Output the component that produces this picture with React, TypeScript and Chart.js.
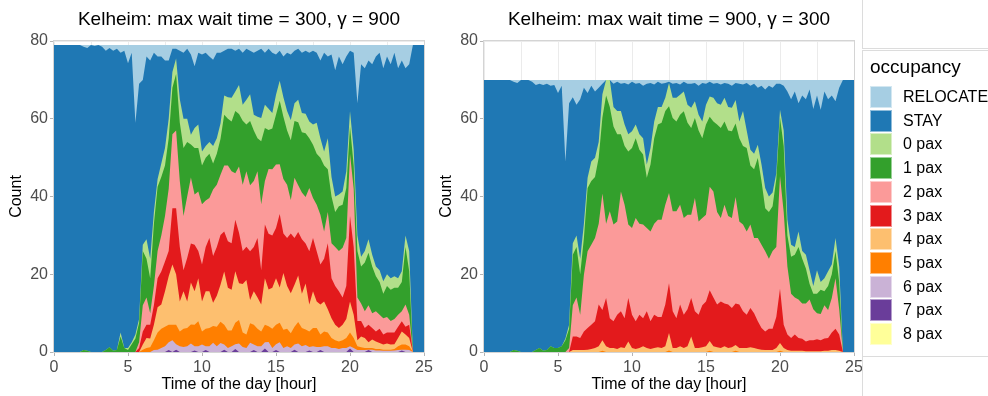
import React, { useEffect, useRef } from "react";
import { Chart, registerables } from "chart.js";

Chart.register(...registerables);

const FONT = "'Liberation Sans', Arial, Helvetica, sans-serif";

// time grid: every 15 minutes from 0 h to 25 h
const HOURS = Array.from({ length: 101 }, (_, i) => i * 0.25);

const FLEET_1 = 79;
const FLEET_2 = 70;

const TITLE_1 = "Kelheim: max wait time = 300, \u03b3 = 900";
const TITLE_2 = "Kelheim: max wait time = 900, \u03b3 = 300";
const X_TITLE = "Time of the day [hour]";
const Y_TITLE = "Count";
const X_TICKS = [0, 5, 10, 15, 20, 25];
const Y_TICKS = [0, 20, 40, 60, 80];

const LEGEND = ["RELOCATE", "STAY", "0 pax", "1 pax", "2 pax", "3 pax", "4 pax", "5 pax", "6 pax", "7 pax", "8 pax"];
const COLORS: Record<string, string> = {
  RELOCATE: "#a6cee3",
  STAY: "#1f78b4",
  "0 pax": "#b2df8a",
  "1 pax": "#33a02c",
  "2 pax": "#fb9a99",
  "3 pax": "#e31a1c",
  "4 pax": "#fdbf6f",
  "5 pax": "#ff7f00",
  "6 pax": "#cab2d6",
  "7 pax": "#6a3d9a",
  "8 pax": "#ffff99",
};

// ---------------- Panel 1: max wait time = 300, gamma = 900 ----------------
const P1_RELOCATE = [
  0, 0, 0, 0, 0, 0, 0, 0, 0.5, 0.8, 0, 0.3, 0, 0.5, 1.5, 0.8,
  1.5, 1, 2, 1.5, 4.7, 2, 20, 10, 9, 3, 4, 2, 3, 3, 4, 4,
  1, 1, 1.5, 2, 1, 2.5, 5.5, 2, 2.5, 2, 3, 3.8, 2, 2, 1.5, 1,
  1, 1.5, 1, 2, 1, 1.5, 2, 1.5, 1, 2, 1, 2, 2.5, 1.5, 3, 2,
  2.5, 1.5, 1, 2, 1.5, 2, 1.5, 2, 4, 2, 3, 2.5, 6.5, 3, 5, 3,
  1.5, 2, 15, 5, 6, 4, 5, 3, 2, 6, 3, 5, 2, 6, 4, 6,
  5, 0, 0, 0, 0,
];
const P1_PAX0 = [
  0, 0, 0, 0, 0, 0, 0, 0, 0, 0, 0, 0, 0, 0, 0, 0,
  0, 0, 1, 0, 0.5, 0.5, 1, 1, 1.6, 5, 5, 3, 2, 3.5, 4.5, 5,
  4, 4, 6, 7.5, 6, 2.5, 5.1, 6, 3.6, 3, 3, 4.5, 4, 4, 5, 5.5,
  6.1, 5, 7.5, 4.1, 6.4, 6.9, 4, 5.5, 6, 6, 5.5, 4, 5.2, 5.2, 5, 5,
  5.2, 4.6, 5.8, 5, 5, 4.3, 5.2, 8, 5, 3.6, 8, 5, 4, 3, 3.4, 4.3,
  4, 4, 4, 2.5, 3, 3.5, 3, 2.5, 3, 3.2, 3, 3, 3, 2.5, 2.8, 3,
  5.2, 0, 0, 0, 0,
];
const P1_PAX1 = [
  0, 0, 0, 0, 0, 0, 0, 0, 0.5, 0.3, 0, 0, 0, 0, 0.5, 1.2,
  0.3, 0.5, 4, 1, 0.5, 2, 3.5, 5, 14, 10, 9, 16, 16.5, 15, 13, 13,
  12, 14.5, 15, 17.5, 14, 8.5, 12, 11.2, 10, 11, 11.4, 6.7, 8, 9.2, 13, 12,
  12.8, 16, 13.5, 16.5, 12, 16.5, 13, 8.5, 16.2, 13.6, 10, 10.5, 12.8, 16.3, 16, 14,
  15.4, 14.6, 16.2, 15.5, 16.4, 12.8, 13.7, 13.1, 14.7, 17, 11, 12, 9, 11.5, 11.1, 12.9,
  7, 6, 12, 9.5, 12.5, 13.5, 12, 9, 8.4, 6.3, 8, 8, 8, 6.9, 7.5, 14.8,
  11.2, 0, 0, 0, 0,
];
const P1_PAX2 = [
  0, 0, 0, 0, 0, 0, 0, 0, 0, 0, 0, 0, 0, 0, 0, 0,
  0, 0, 0, 0, 0, 0, 0, 1.5, 6.7, 7, 3, 5, 7, 9.3, 11.7, 16,
  19, 20, 17, 14, 15.8, 17, 12.9, 15.3, 15.5, 12, 10.3, 17.1, 16, 15.5, 17, 19.5,
  18.5, 12, 17, 17, 19.4, 17, 17, 17.2, 17, 11.2, 16.7, 17, 16.3, 12.8, 14, 13.7,
  8.6, 15.5, 12, 12, 12, 16.3, 10.3, 12, 12.8, 7, 8, 9, 10, 10.4, 12.8, 12.3,
  16, 15, 6, 4.5, 4.3, 5, 3.8, 5.2, 3.6, 4.2, 4, 3, 3.5, 3.1, 2.6, 5.7,
  2.6, 0, 0, 0, 0,
];
const P1_PAX3 = [
  0, 0, 0, 0, 0, 0, 0, 0, 0, 0, 0, 0, 0, 0, 0, 0,
  0, 0, 0, 0, 0, 0, 0, 1, 3.4, 3.4, 3.5, 5, 7.5, 8.5, 7.7, 6.5,
  14.5, 17, 14, 5.4, 11.2, 10, 12, 7, 9.5, 11.4, 13.7, 12, 12.5, 12.8, 10.3, 12,
  12, 13.2, 13, 8.5, 8.6, 12.5, 11.4, 15.3, 8.8, 13.8, 14.3, 13.5, 12.9, 18.9, 10.2, 12.3,
  15.4, 12, 11.2, 14, 10.3, 13.7, 13.7, 12.9, 10.3, 11, 17, 10.3, 10, 9.4, 7, 8.5,
  22, 17.4, 5, 4, 2.6, 4.5, 3, 2.6, 3.7, 2.6, 2.8, 3.1, 3, 2.9, 2.6, 2,
  3.4, 0, 0, 0, 0,
];
const P1_PAX4 = [
  0, 0, 0, 0, 0, 0, 0, 0, 0, 0, 0, 0, 0, 0, 0, 0,
  0, 0, 0, 0, 0, 0, 0, 0, 1.3, 2.6, 2.3, 4, 6.5, 6.2, 9.1, 12.5,
  15.5, 13, 7.7, 9.6, 6.8, 10.8, 8.6, 11.1, 7.7, 9.6, 9.4, 6, 8, 9.5, 13.7, 11,
  10.5, 13.3, 9.5, 12.5, 14, 6, 8.6, 8, 6.9, 12, 9.5, 10.5, 12, 9.1, 14.6, 11,
  10.3, 10.8, 12, 8.8, 11.8, 6.9, 9.4, 6.8, 7.7, 7.7, 6, 5.1, 4, 3.5, 4, 4.9,
  8, 6, 1.5, 2.8, 2.6, 1.5, 2.2, 1.9, 1.5, 1.3, 1.6, 1.3, 1.2, 2.1, 3.4, 2.6,
  2.1, 0, 0, 0, 0,
];
const P1_PAX5 = [
  0, 0, 0, 0, 0, 0, 0, 0, 0, 0, 0, 0, 0, 0, 0, 0,
  0, 0, 0, 0, 0, 0, 0, 0, 0.6, 1, 1.2, 2.5, 4.4, 5, 5, 4.5,
  4, 5, 3.8, 4.7, 4.7, 4.9, 5.5, 6.4, 3.4, 4.5, 4.7, 4.3, 5, 5.5, 5.1, 4.5,
  4, 5.5, 6, 3.7, 3.5, 5, 5.1, 4.5, 3.8, 4.5, 4, 5, 5, 5, 4.7, 4.5,
  3.8, 4.6, 5.5, 4.7, 4, 4, 4.7, 4.9, 3.2, 3.8, 3.5, 2.6, 2, 1.9, 2, 2.6,
  3.5, 2.6, 1, 0.7, 0.5, 0.4, 0.4, 0.4, 0.4, 0.3, 0.3, 0.3, 0.4, 1, 1.3, 1.3,
  1, 0, 0, 0, 0,
];
const P1_PAX6 = [
  0, 0, 0, 0, 0, 0, 0, 0, 0, 0, 0, 0, 0, 0, 0, 0,
  0, 0, 0, 0, 0, 0, 0, 0, 0, 0, 0, 0.5, 0.6, 1, 1.5, 2,
  3, 1.4, 1.5, 1.3, 1.5, 2.2, 1.1, 1.5, 1.9, 1, 1.5, 2.4, 1.5, 2.3, 1.3, 1,
  1.5, 1.2, 2.2, 1.3, 1, 2.4, 1.4, 1.5, 1.5, 1.6, 2.6, 1, 1.5, 2.5, 1, 1.5,
  1, 1.3, 2.2, 1.5, 1.8, 0.9, 1.5, 1.3, 0.8, 1.5, 1.5, 1, 1, 0.8, 1, 1,
  0.6, 1, 0.5, 0.5, 0.5, 0.1, 0.6, 0.4, 0.4, 0.3, 0.3, 0.3, 0.4, 0.5, 0.2, 0.6,
  0.5, 0, 0, 0, 0,
];
const P1_PAX7 = [
  0, 0, 0, 0, 0, 0, 0, 0, 0, 0, 0, 0, 0, 0, 0, 0,
  0, 0, 0, 0, 0, 0, 0, 0, 0, 0, 0, 0, 0, 0, 0, 0.5,
  0, 0.6, 0, 0, 0, 0, 0.4, 0, 0, 0.5, 0, 0, 0, 0, 0.6, 0,
  0, 0.8, 0, 0, 0, 0, 0.5, 0, 0, 0.9, 0, 0, 0.5, 0, 0, 0,
  0, 0.6, 0, 0, 0, 0.4, 0, 0, 0.5, 0, 0, 0, 0, 0, 0, 0,
  0.9, 0, 0, 0, 0, 0.5, 0, 0, 0, 0, 0, 0, 0, 0, 0.4, 0,
  0, 0, 0, 0, 0,
];

// ---------------- Panel 2: max wait time = 900, gamma = 300 ----------------
const P2_RELOCATE = [
  0, 0, 0, 0, 0, 0, 0, 0, 0.5, 0.8, 0, 0, 0, 0.5, 1.3, 1,
  1.3, 1, 1.5, 1.3, 3.4, 1.5, 21, 6, 4.5, 6.4, 5, 2, 3.4, 1.5, 3, 2,
  1, 0, 0, 1, 0.5, 1, 0.8, 1.2, 0.5, 1, 0.8, 1.5, 1, 0.8, 1.2, 0.5,
  1, 0.8, 0.5, 1, 0.8, 1.2, 0.5, 1, 1, 0.8, 1.5, 0.8, 1, 0.5, 1, 0.8,
  1.2, 0.8, 1, 1.5, 0.8, 1, 1.2, 0.8, 1.5, 1, 2, 1.5, 2.5, 1.5, 2, 1,
  1, 1.5, 3, 5, 3, 6, 4, 5, 2.5, 7.5, 4, 7.7, 3, 5, 4, 5.5,
  2, 0, 0, 0, 0,
];
const P2_PAX0 = [
  0, 0, 0, 0, 0, 0, 0, 0, 0, 0, 0, 0, 0, 0, 0, 0,
  0, 0, 0, 0, 0, 0, 0.5, 1, 3, 3, 4, 3.7, 2.6, 5, 5, 4,
  6, 4, 7, 5, 6, 6, 5.5, 4.4, 4.3, 3.5, 4, 4.2, 3.4, 4.3, 4.3, 4.5,
  4, 3.4, 6, 5.2, 6.1, 5.2, 5.1, 4.6, 5.2, 4.3, 4, 4.3, 5.1, 5.2, 6.1, 5.5,
  6, 6.1, 6, 6, 6, 4.3, 9, 4.5, 4, 4, 3.4, 4.3, 5.2, 4, 3.5, 1.5,
  2, 4, 4, 3.1, 2, 4, 2, 3.5, 3.5, 2, 6, 2, 3.4, 3.8, 2.5, 3.3,
  4, 0, 0, 0, 0,
];
const P2_PAX1 = [
  0, 0, 0, 0, 0, 0, 0, 0, 0.5, 0.3, 0, 0, 0, 0, 0.5, 1,
  0.3, 0.5, 1.5, 1, 1, 1.5, 3, 5, 13, 13, 10.4, 9.4, 16.3, 16.4, 15.7, 17,
  19.5, 33, 26.8, 25.2, 22.4, 14.7, 15.1, 18.8, 20.6, 20.5, 19, 18, 12.9, 17.2, 22, 24.5,
  25, 24.1, 22.3, 24, 23.1, 23.1, 27.4, 23.7, 22.3, 20.6, 23.4, 20.5, 23.2, 18, 18, 22.5,
  23.1, 21.4, 22, 22.3, 18.9, 21.4, 20.2, 21.5, 15.2, 17.7, 20.6, 16.3, 11.1, 12, 11.5, 17.5,
  15, 17, 8, 9.5, 11, 13.5, 11.5, 9, 4, 4, 5, 6.2, 3.6, 6.2, 6.1, 7,
  7, 0, 0, 0, 0,
];
const P2_PAX2 = [
  0, 0, 0, 0, 0, 0, 0, 0, 0, 0, 0, 0, 0, 0, 0, 0,
  0, 0, 0, 0, 0, 0, 0, 1, 8, 10, 6, 14.6, 19.7, 20.6, 21.4, 20.8,
  30, 19.1, 27.5, 24.9, 24, 30.8, 29.2, 18.9, 22.3, 26.6, 23.4, 24.1, 21.4, 23.1, 23.4, 25,
  25, 25.7, 23.2, 25.7, 27.5, 25.7, 24.9, 24.3, 21.4, 29.1, 24, 22.5, 22.3, 26.6, 27.3, 23.8,
  21.5, 25.4, 22.8, 23.2, 27.4, 21.4, 22.3, 21.4, 21.5, 19.3, 21.4, 21.4, 20.6, 18, 20, 18,
  29, 29, 17.5, 11.4, 9.5, 9.9, 9.1, 9.8, 10.5, 8, 6.7, 6.8, 8.5, 7.2, 8.9, 13,
  6.5, 0, 0, 0, 0,
];
const P2_PAX3 = [
  0, 0, 0, 0, 0, 0, 0, 0, 0, 0, 0, 0, 0, 0, 0, 0,
  0, 0, 0, 0, 0, 0, 0, 0, 3.5, 3.5, 3.1, 4.8, 5.6, 6.2, 6.9, 10.7,
  7.8, 12.4, 7.7, 6.9, 8.8, 9.3, 7.7, 11.2, 8.6, 7.1, 8.6, 7.2, 9.5, 7.1, 8.6, 7.8,
  8, 10.7, 12.8, 9.5, 7.7, 10.7, 8.6, 9.5, 9.9, 9.5, 8.6, 10.8, 11.5, 13.1, 12.5, 11,
  12, 11, 11.2, 10.1, 10.7, 11.2, 9.5, 8.6, 10.1, 9, 7.1, 5.6, 4.8, 5.5, 5.5, 8,
  14, 6, 4, 3.3, 4.2, 3.3, 3.1, 2.5, 2.8, 2.8, 3.1, 2.8, 3.2, 3.3, 4.5, 5.5,
  4.2, 0, 0, 0, 0,
];
const P2_PAX4 = [
  0, 0, 0, 0, 0, 0, 0, 0, 0, 0, 0, 0, 0, 0, 0, 0,
  0, 0, 0, 0, 0, 0, 0, 0, 0.5, 0.5, 0.5, 0.5, 0.6, 0.8, 1, 1.5,
  2.7, 1.5, 1, 1, 0.8, 1.2, 1, 2.7, 1, 0.8, 1, 1.5, 1, 0.8, 1, 1.2,
  1, 1.5, 4.5, 1, 1, 1.5, 1, 1.5, 4, 1, 1, 1.2, 1.5, 2.5, 1.5, 1.2,
  1, 1.5, 1, 1.2, 1.5, 1, 1, 1, 1.2, 1, 0.8, 0.6, 0.5, 0.5, 0.5, 1,
  2, 1, 0.5, 0.3, 0.3, 0.3, 0.3, 0.2, 0.2, 0.2, 0.2, 0.2, 0.3, 0.3, 0.5, 0.5,
  0.3, 0, 0, 0, 0,
];
const P2_PAX5 = [
  0, 0, 0, 0, 0, 0, 0, 0, 0, 0, 0, 0, 0, 0, 0, 0,
  0, 0, 0, 0, 0, 0, 0, 0, 0, 0, 0, 0, 0, 0, 0, 0,
  0.3, 0, 0, 0, 0, 0, 0, 0, 0, 0, 0, 0, 0, 0, 0, 0,
  0, 0, 0.4, 0, 0, 0, 0, 0, 0, 0, 0, 0, 0, 0.3, 0, 0,
  0, 0, 0, 0, 0.3, 0, 0, 0, 0, 0, 0, 0, 0, 0, 0, 0,
  0.3, 0, 0, 0, 0, 0, 0, 0, 0, 0, 0, 0, 0, 0, 0, 0,
  0, 0, 0, 0, 0,
];

const PANEL_1 = { title: TITLE_1, fleet: FLEET_1, relocate: P1_RELOCATE, pax: [P1_PAX0, P1_PAX1, P1_PAX2, P1_PAX3, P1_PAX4, P1_PAX5, P1_PAX6, P1_PAX7] };
const PANEL_2 = { title: TITLE_2, fleet: FLEET_2, relocate: P2_RELOCATE, pax: [P2_PAX0, P2_PAX1, P2_PAX2, P2_PAX3, P2_PAX4, P2_PAX5] };

function buildDatasets(panel: { fleet: number; relocate: number[]; pax: number[][] }) {
  const layers: { label: string; values: number[] }[] = [];
  for (let k = panel.pax.length - 1; k >= 0; k--) layers.push({ label: `${k} pax`, values: panel.pax[k] });
  const stay = HOURS.map((_, i) => {
    let used = panel.relocate[i];
    for (const arr of panel.pax) used += arr[i];
    return Math.max(0, panel.fleet - used);
  });
  layers.push({ label: "STAY", values: stay });
  layers.push({ label: "RELOCATE", values: panel.relocate });
  return layers.map((l) => ({
    label: l.label,
    data: HOURS.map((h, i) => ({ x: h, y: l.values[i] })),
    backgroundColor: COLORS[l.label],
    borderColor: COLORS[l.label],
    borderWidth: 0,
    pointRadius: 0,
    pointHoverRadius: 0,
    fill: "origin",
    tension: 0,
  }));
}

const framePlugin = {
  id: "frame",
  afterDatasetsDraw(chart: any) {
    const { ctx, chartArea: a } = chart;
    ctx.save();
    ctx.strokeStyle = "#d4d4d4";
    ctx.lineWidth = 1;
    ctx.strokeRect(Math.round(a.left) - 0.5, Math.round(a.top) - 0.5, Math.round(a.right - a.left) + 1, Math.round(a.bottom - a.top) + 1);
    ctx.restore();
  },
};

function Panel({ panel, left, width, padRight }: { panel: any; left: number; width: number; padRight: number }) {
  const ref = useRef<HTMLCanvasElement>(null);
  useEffect(() => {
    const chart = new Chart(ref.current as HTMLCanvasElement, {
      type: "line",
      data: { datasets: buildDatasets(panel) as any },
      options: {
        responsive: false,
        animation: false,
        devicePixelRatio: 1,
        events: [],
        layout: { padding: { left: 0, right: padRight, top: 0, bottom: 0 } },
        plugins: {
          legend: { display: false },
          tooltip: { enabled: false },
          title: {
            display: true,
            text: panel.title,
            fullSize: false,
            color: "#000",
            font: { family: FONT, size: 19, weight: "normal" },
            padding: { top: 8, bottom: 10.2 },
          },
        },
        scales: {
          x: {
            type: "linear",
            min: 0,
            max: 25,
            afterFit: (s: any) => {
              s.height = 44;
            },
            afterBuildTicks: (s: any) => {
              const t: any[] = [];
              for (let v = 0; v <= 25; v += 2.5) t.push({ value: v });
              s.ticks = t;
            },
            ticks: {
              autoSkip: false,
              maxRotation: 0,
              color: "#4d4d4d",
              font: { family: FONT, size: 16 },
              padding: 2,
              callback: (v: any) => (X_TICKS.includes(Number(v)) ? String(v) : ""),
            },
            grid: {
              color: "#ebebeb",
              tickLength: 4,
              tickColor: (ctx: any) => (ctx.tick && X_TICKS.includes(ctx.tick.value) ? "#b5b5b5" : "rgba(0,0,0,0)"),
            },
            border: { display: false },
            title: {
              display: true,
              text: X_TITLE,
              color: "#000",
              font: { family: FONT, size: 16 },
              padding: { top: 0, bottom: 2 },
            },
          },
          y: {
            type: "linear",
            stacked: true,
            min: 0,
            max: 80,
            afterFit: (s: any) => {
              s.width = 54;
            },
            afterBuildTicks: (s: any) => {
              s.ticks = Y_TICKS.map((v) => ({ value: v }));
            },
            ticks: {
              color: "#4d4d4d",
              font: { family: FONT, size: 16 },
              padding: 2,
            },
            grid: { color: "#ebebeb", tickLength: 4, tickColor: "#b5b5b5" },
            border: { display: false },
            title: {
              display: true,
              text: Y_TITLE,
              color: "#000",
              font: { family: FONT, size: 16 },
              padding: { top: 7, bottom: 0 },
            },
          },
        },
      } as any,
      plugins: [framePlugin],
    });
    return () => chart.destroy();
  }, []);
  return <canvas ref={ref} width={width} height={396} style={{ position: "absolute", left, top: 0 }} />;
}

const LINE = "#dcdcdc";

export default function App() {
  return (
    <div style={{ position: "fixed", left: 0, top: 0, width: 988, height: 396, overflow: "hidden", background: "#fff", fontFamily: FONT }}>
      <Panel panel={PANEL_1} left={0} width={440} padRight={16} />
      <Panel panel={PANEL_2} left={430} width={448} padRight={24} />
      <div style={{ position: "absolute", left: 862, top: -10, width: 200, height: 58, borderLeft: `1px solid ${LINE}`, borderBottom: `1px solid ${LINE}` }} />
      <div style={{ position: "absolute", left: 862, top: 50, width: 200, height: 305, border: `1px solid ${LINE}` }} />
      <div style={{ position: "absolute", left: 862, top: 356, width: 200, height: 60, borderLeft: `1px solid ${LINE}` }} />
      <div style={{ position: "absolute", left: 870, top: 56, fontSize: 19, lineHeight: "22px", color: "#000", whiteSpace: "nowrap" }}>occupancy</div>
      {LEGEND.map((name, i) => (
        <div key={name} style={{ position: "absolute", left: 870, top: 86 + i * 23.7, height: 22, display: "flex", alignItems: "center", whiteSpace: "nowrap" }}>
          <div style={{ width: 22, height: 22, background: COLORS[name], boxSizing: "border-box", border: "1px solid rgba(255,255,255,0.5)" }} />
          <span style={{ marginLeft: 11, fontSize: 16, lineHeight: "22px", color: "#000" }}>{name}</span>
        </div>
      ))}
    </div>
  );
}
